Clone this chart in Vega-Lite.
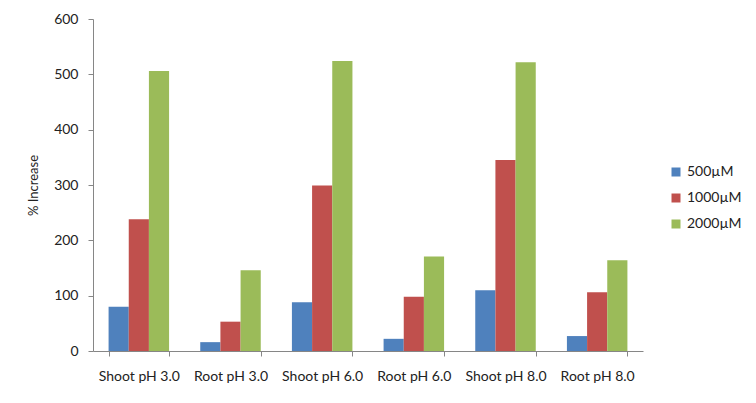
{
  "$schema": "https://vega.github.io/schema/vega-lite/v6.json",
  "width": 550,
  "height": 332,
  "autosize": {"type": "none"},
  "padding": {"left": 93, "top": 19, "right": 113, "bottom": 52},
  "background": "white",
  "data": {
    "values": [
      {"group": "Shoot pH 3.0", "conc": "500µM", "value": 80},
      {"group": "Shoot pH 3.0", "conc": "1000µM", "value": 238},
      {"group": "Shoot pH 3.0", "conc": "2000µM", "value": 506},
      {"group": "Root pH 3.0", "conc": "500µM", "value": 16},
      {"group": "Root pH 3.0", "conc": "1000µM", "value": 53},
      {"group": "Root pH 3.0", "conc": "2000µM", "value": 146},
      {"group": "Shoot pH 6.0", "conc": "500µM", "value": 88},
      {"group": "Shoot pH 6.0", "conc": "1000µM", "value": 299},
      {"group": "Shoot pH 6.0", "conc": "2000µM", "value": 524},
      {"group": "Root pH 6.0", "conc": "500µM", "value": 22},
      {"group": "Root pH 6.0", "conc": "1000µM", "value": 98},
      {"group": "Root pH 6.0", "conc": "2000µM", "value": 171},
      {"group": "Shoot pH 8.0", "conc": "500µM", "value": 110},
      {"group": "Shoot pH 8.0", "conc": "1000µM", "value": 345},
      {"group": "Shoot pH 8.0", "conc": "2000µM", "value": 522},
      {"group": "Root pH 8.0", "conc": "500µM", "value": 27},
      {"group": "Root pH 8.0", "conc": "1000µM", "value": 106},
      {"group": "Root pH 8.0", "conc": "2000µM", "value": 164}
    ]
  },
  "mark": {"type": "bar"},
  "encoding": {
    "x": {
      "field": "group",
      "type": "nominal",
      "sort": null,
      "scale": {"paddingInner": 0.34, "paddingOuter": 0.17},
      "axis": {
        "title": null,
        "labelAngle": 0,
        "tickBand": "extent",
        "labelPadding": 13,
        "labelFontSize": 14,
        "labelColor": "#222222",
        "labelFont": "Lato",
        "domainColor": "#868686",
        "tickColor": "#868686",
        "tickSize": 5
      }
    },
    "xOffset": {"field": "conc", "type": "nominal", "sort": ["500µM", "1000µM", "2000µM"], "scale": {"paddingInner": 0, "paddingOuter": 0}},
    "y": {
      "field": "value",
      "type": "quantitative",
      "scale": {"domain": [0, 600]},
      "axis": {
        "title": "% Increase",
        "titleFont": "Lato",
        "titleFontSize": 13,
        "titleFontWeight": "normal",
        "titleColor": "#222222",
        "titlePadding": 13,
        "values": [0, 100, 200, 300, 400, 500, 600],
        "grid": false,
        "labelFont": "Lato",
        "labelFontSize": 14,
        "labelColor": "#222222",
        "labelPadding": 10,
        "domainColor": "#868686",
        "tickColor": "#868686",
        "tickSize": 5
      }
    },
    "color": {
      "field": "conc",
      "type": "nominal",
      "sort": ["500µM", "1000µM", "2000µM"],
      "scale": {"domain": ["500µM", "1000µM", "2000µM"], "range": ["#4F81BD", "#C0504D", "#9BBB59"]},
      "legend": {
        "title": null,
        "orient": "none",
        "legendX": 576,
        "legendY": 146,
        "symbolType": "square",
        "symbolSize": 81,
        "symbolStrokeWidth": 0,
        "labelFont": "Lato",
        "labelFontSize": 14,
        "labelColor": "#222222",
        "rowPadding": 12,
        "labelOffset": 4
      }
    }
  },
  "config": {"view": {"stroke": null}}
}
